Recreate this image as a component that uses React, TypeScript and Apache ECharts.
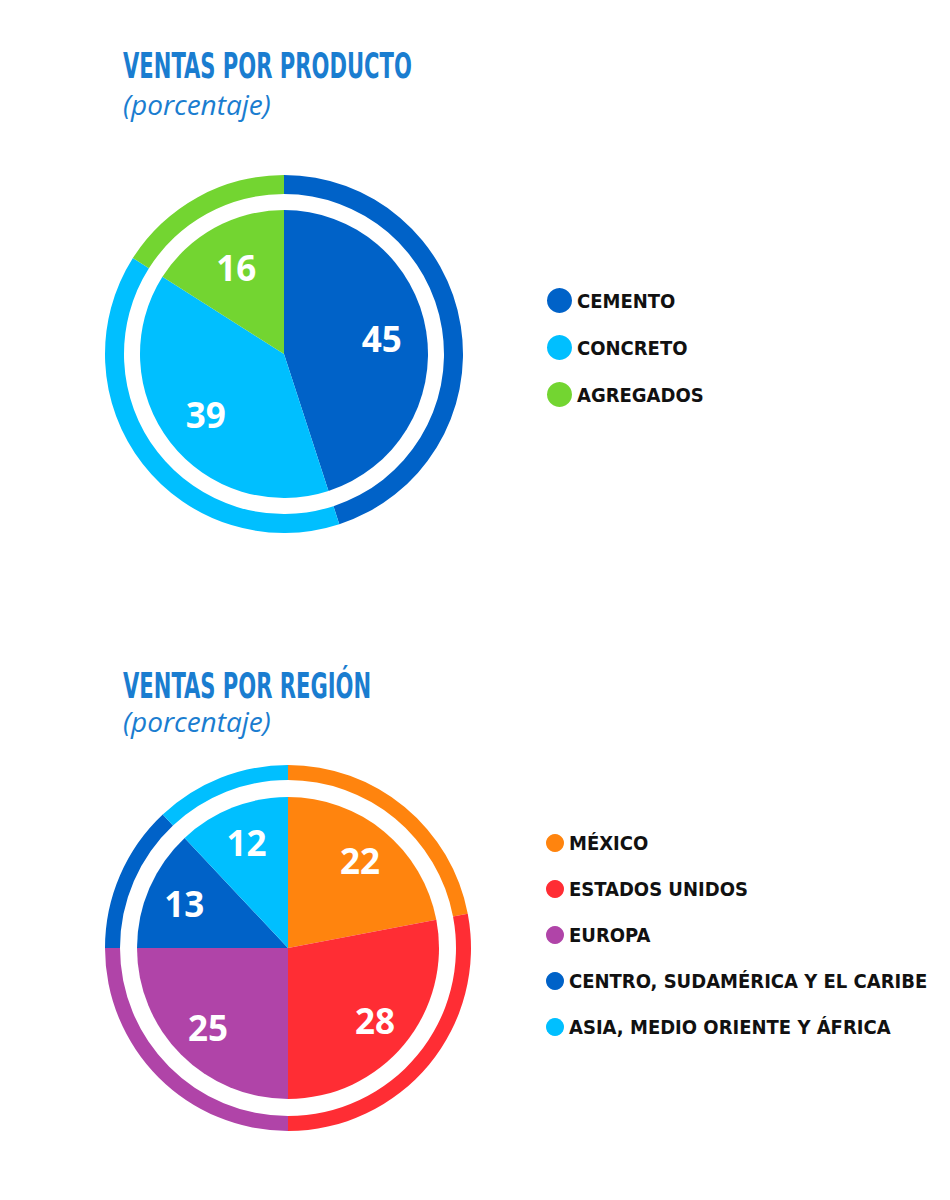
import { useEffect, useRef } from 'react'
import * as echarts from 'echarts'

// datos del gráfico de productos
const productNames = ['CEMENTO', 'CONCRETO', 'AGREGADOS']
const productValues = [45, 39, 16]
const productColors = ['#0062c8', '#00bfff', '#73d531']

// datos del gráfico de regiones
const regionNames = ['MÉXICO', 'ESTADOS UNIDOS', 'EUROPA', 'CENTRO, SUDAMÉRICA Y EL CARIBE', 'ASIA, MEDIO ORIENTE Y ÁFRICA']
const regionValues = [22, 28, 25, 13, 12]
const regionColors = ['#ff840e', '#ff2d34', '#b044a8', '#0062c8', '#00bfff']

const titleColor = '#1a7dd0'
const condensed = '"DejaVu Sans Condensed", "Liberation Sans", sans-serif'

const buildData = (names: string[], values: number[], colors: string[]) =>
  names.map((name, i) => ({ name, value: values[i], itemStyle: { color: colors[i] } }))

const pieBase = {
  type: 'pie',
  startAngle: 90,
  clockwise: true,
  silent: true,
  label: { show: false },
  labelLine: { show: false },
  emphasis: { disabled: true },
  itemStyle: { borderWidth: 0 }
}

// serie transparente solo para colocar las etiquetas dentro de la tarta
const labelSeries = (center: number[], radius: number[], names: string[], values: number[]) => ({
  ...pieBase,
  center,
  radius,
  data: names.map((name, i) => ({ name, value: values[i] })),
  itemStyle: { color: 'transparent', borderWidth: 0 },
  label: {
    show: true,
    position: 'inside',
    formatter: '{c}',
    color: '#fff',
    fontFamily: 'Open Sans',
    fontWeight: 'bold',
    fontSize: 35
  }
})

const legendText = {
  color: '#111',
  fontFamily: condensed,
  fontWeight: 'bold',
  fontSize: 20
}

const App: React.FC = () => {
  const chartRef = useRef<HTMLDivElement | null>(null)

  useEffect(() => {
    if (chartRef.current === null) return
    const chart = echarts.init(chartRef.current, undefined, { renderer: 'svg' })
    const productData = buildData(productNames, productValues, productColors)
    const regionData = buildData(regionNames, regionValues, regionColors)

    chart.setOption({
      animation: false,
      graphic: [
        {
          type: 'text', x: 123, y: 66, scaleX: 0.67,
          style: { text: 'VENTAS POR PRODUCTO', fill: titleColor, font: `bold 35px ${condensed}`, verticalAlign: 'middle' }
        },
        {
          type: 'text', x: 123, y: 104,
          style: { text: '(porcentaje)', fill: titleColor, font: 'italic 28px "Open Sans"', verticalAlign: 'middle' }
        },
        {
          type: 'text', x: 123, y: 686, scaleX: 0.67,
          style: { text: 'VENTAS POR REGIÓN', fill: titleColor, font: `bold 35px ${condensed}`, verticalAlign: 'middle' }
        },
        {
          type: 'text', x: 123, y: 721,
          style: { text: '(porcentaje)', fill: titleColor, font: 'italic 28px "Open Sans"', verticalAlign: 'middle' }
        }
      ],
      legend: [
        {
          data: productNames,
          orient: 'vertical',
          left: 542,
          top: 283,
          icon: 'circle',
          itemWidth: 25,
          itemHeight: 25,
          itemGap: 22,
          selectedMode: false,
          textStyle: legendText
        },
        {
          data: regionNames,
          orient: 'vertical',
          left: 541,
          top: 828,
          icon: 'circle',
          itemWidth: 18,
          itemHeight: 18,
          itemGap: 26,
          selectedMode: false,
          textStyle: legendText
        }
      ],
      series: [
        { ...pieBase, center: [284, 354], radius: [0, 144], data: productData },
        { ...pieBase, center: [284, 354], radius: [160, 179], data: productData },
        { ...pieBase, center: [288, 948], radius: [0, 151], data: regionData },
        { ...pieBase, center: [288, 948], radius: [168, 183], data: regionData },
        labelSeries([284, 354], [90, 102], productNames, productValues),
        labelSeries([288, 948], [104, 116], regionNames, regionValues)
      ]
    })

    return () => {
      chart.dispose()
    }
  }, [])

  return (
    <div
      ref={chartRef}
      style={{ position: 'absolute', left: 0, top: 0, width: 950, height: 1200 }}
    ></div>
  )
}

export default App
